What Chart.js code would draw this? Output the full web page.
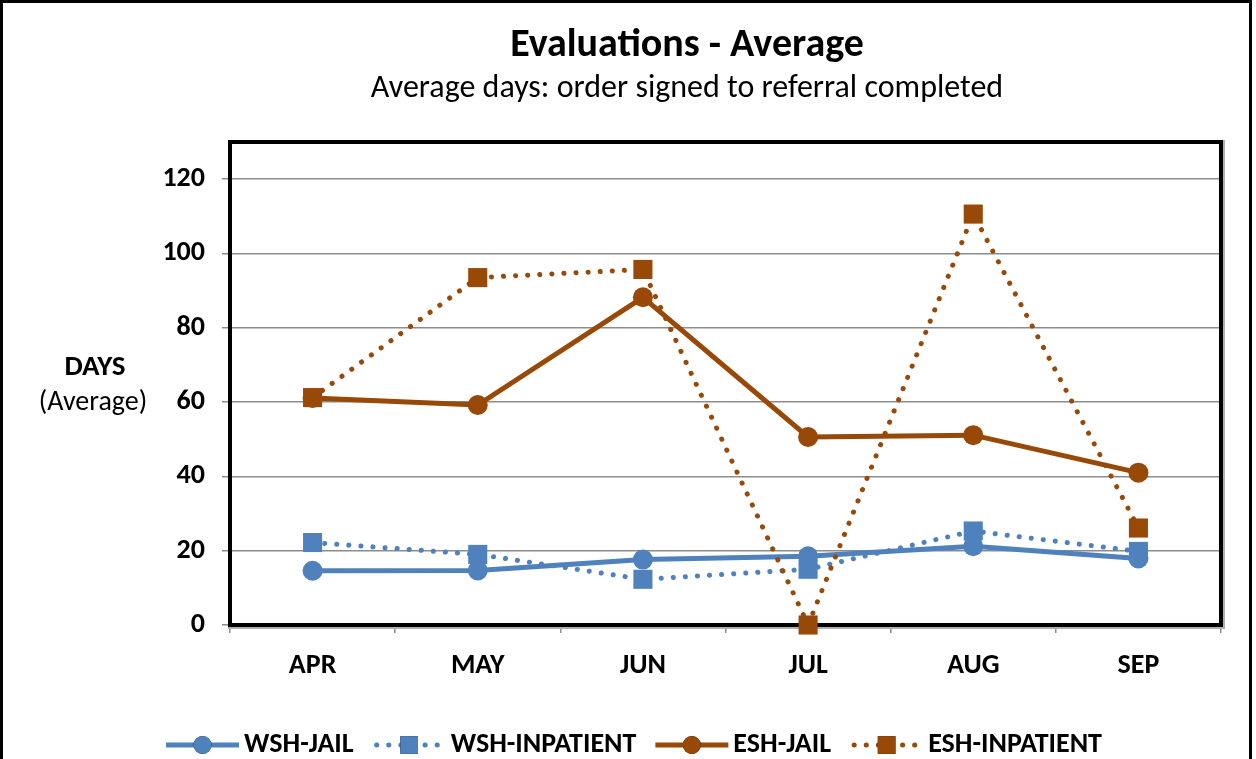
<!DOCTYPE html>
<html>
<head>
<meta charset="utf-8">
<script src="https://cdn.jsdelivr.net/npm/chart.js@4"></script>
<style>
  html, body { margin: 0; padding: 0; background: #fff; }
  #wrap { width: 1256px; height: 759px; position: relative; }
</style>
</head>
<body>
<div id="wrap"><canvas id="chart" width="1256" height="759"></canvas></div>
<script>
// data
const categories = ['APR', 'MAY', 'JUN', 'JUL', 'AUG', 'SEP'];
const wshJail = [14.6, 14.7, 17.6, 18.5, 21.2, 17.9];
const wshInpatient = [22.2, 19.0, 12.3, 15.0, 25.3, 19.8];
const eshJail = [61.1, 59.2, 88.2, 50.6, 51.1, 41.0];
const eshInpatient = [61.2, 93.5, 95.7, 0, 110.6, 26.1];
const yTickValues = [0, 20, 40, 60, 80, 100, 120];
const seriesNames = ['WSH-JAIL', 'WSH-INPATIENT', 'ESH-JAIL', 'ESH-INPATIENT'];
const titleText = 'Evaluations - Average';
const subtitleText = 'Average days: order signed to referral completed';

const FONT = "Carlito, 'Liberation Sans Narrow', 'Liberation Sans', sans-serif";
const BLUE = '#4f81bd';
const BROWN = '#984807';

function makeSet(label, data, color, dotted, shape, order) {
    return {
        label: label,
        data: data,
        borderColor: color,
        backgroundColor: color,
        borderWidth: 5,
        borderDash: dotted ? [0.1, 12] : [],
        borderCapStyle: dotted ? 'round' : 'butt',
        pointStyle: shape,
        pointRadius: shape === 'rect' ? 13.5 : 10,
        pointBorderWidth: 0,
        pointBackgroundColor: color,
        tension: 0,
        clip: false,
        order: order
    };
}

// thick black frame around the plot area
const plotFrame = {
    id: 'plotFrame',
    beforeDatasetsDraw(chart) {
        const a = chart.chartArea;
        const ctx = chart.ctx;
        ctx.save();
        ctx.strokeStyle = '#b0b0b0';
        ctx.lineWidth = 2;
        ctx.strokeRect(a.left - 1, a.top - 1, a.right - a.left + 4, a.bottom - a.top + 4);
        ctx.strokeStyle = '#000';
        ctx.lineWidth = 4;
        ctx.strokeRect(a.left, a.top, a.right - a.left, a.bottom - a.top);
        ctx.restore();
    }
};

// outer border, titles, y axis title and the legend
const extras = {
    id: 'extras',
    afterDraw(chart) {
        const ctx = chart.ctx;
        ctx.save();
        ctx.strokeStyle = '#000';
        ctx.lineWidth = 3;
        ctx.strokeRect(1.5, 1.5, 1249, 770);

        ctx.fillStyle = '#000';
        ctx.textAlign = 'center';
        ctx.textBaseline = 'middle';
        ctx.font = 'bold 40px ' + FONT;
        ctx.fillText(titleText, 687, 46);
        ctx.font = '32px ' + FONT;
        ctx.fillText(subtitleText, 687, 89);

        ctx.font = 'bold 29px ' + FONT;
        ctx.fillText('DAYS', 95, 368);
        ctx.font = '28px ' + FONT;
        ctx.fillText('(Average)', 93, 403);

        // legend
        ctx.font = 'bold 28px ' + FONT;
        const sets = chart.data.datasets;
        const lineLen = 73, textGap = 5, itemGap = 19;
        let total = 0;
        sets.forEach((ds, i) => {
            total += lineLen + textGap + ctx.measureText(ds.label).width;
            if (i < sets.length - 1) total += itemGap;
        });
        let x = 634 - total / 2;
        const y = 745;
        sets.forEach(ds => {
            ctx.strokeStyle = ds.borderColor;
            ctx.lineWidth = ds.borderWidth;
            ctx.lineCap = ds.borderCapStyle;
            ctx.setLineDash(ds.borderDash);
            ctx.beginPath();
            ctx.moveTo(x + (ds.borderDash.length ? 4 : 0), y);
            ctx.lineTo(x + lineLen - (ds.borderDash.length ? 4 : 0), y);
            ctx.stroke();
            ctx.setLineDash([]);
            Chart.helpers.drawPoint(ctx, {
                pointStyle: ds.pointStyle,
                radius: ds.pointRadius - 1,
                borderWidth: 0
            }, x + lineLen / 2, y);
            ctx.fillStyle = ds.borderColor;
            ctx.fill();
            ctx.fillStyle = '#000';
            ctx.textAlign = 'left';
            ctx.fillText(ds.label, x + lineLen + textGap, y);
            x += lineLen + textGap + ctx.measureText(ds.label).width + itemGap;
        });
        ctx.restore();
    }
};

const chart = new Chart(document.getElementById('chart'), {
    type: 'line',
    data: {
        labels: categories,
        datasets: [
            makeSet(seriesNames[0], wshJail, BLUE, false, 'circle', 4),
            makeSet(seriesNames[1], wshInpatient, BLUE, true, 'rect', 3),
            makeSet(seriesNames[2], eshJail, BROWN, false, 'circle', 2),
            makeSet(seriesNames[3], eshInpatient, BROWN, true, 'rect', 1)
        ]
    },
    options: {
        responsive: false,
        animation: false,
        layout: { padding: { left: 0, right: 35, top: 142, bottom: 0 } },
        plugins: {
            legend: { display: false },
            tooltip: { enabled: false },
            title: { display: false }
        },
        scales: {
            x: {
                offset: true,
                grid: {
                    offset: true,
                    drawOnChartArea: false,
                    color: '#8c8c8c',
                    lineWidth: 1.5,
                    tickLength: 8
                },
                border: { display: false },
                ticks: {
                    color: '#000',
                    font: { family: FONT, size: 28, weight: 'bold' },
                    padding: 16
                },
                afterFit(scale) { scale.height = 134; }
            },
            y: {
                min: 0,
                max: 130,
                grid: {
                    color: '#8c8c8c',
                    lineWidth: 1.5,
                    tickLength: 8
                },
                border: { display: false },
                ticks: {
                    stepSize: 20,
                    color: '#000',
                    font: { family: FONT, size: 28, weight: 'bold' },
                    padding: 17
                },
                afterBuildTicks(scale) {
                    scale.ticks = yTickValues.map(v => ({ value: v }));
                },
                afterFit(scale) { scale.width = 230; }
            }
        }
    },
    plugins: [plotFrame, extras]
});
</script>
</body>
</html>
